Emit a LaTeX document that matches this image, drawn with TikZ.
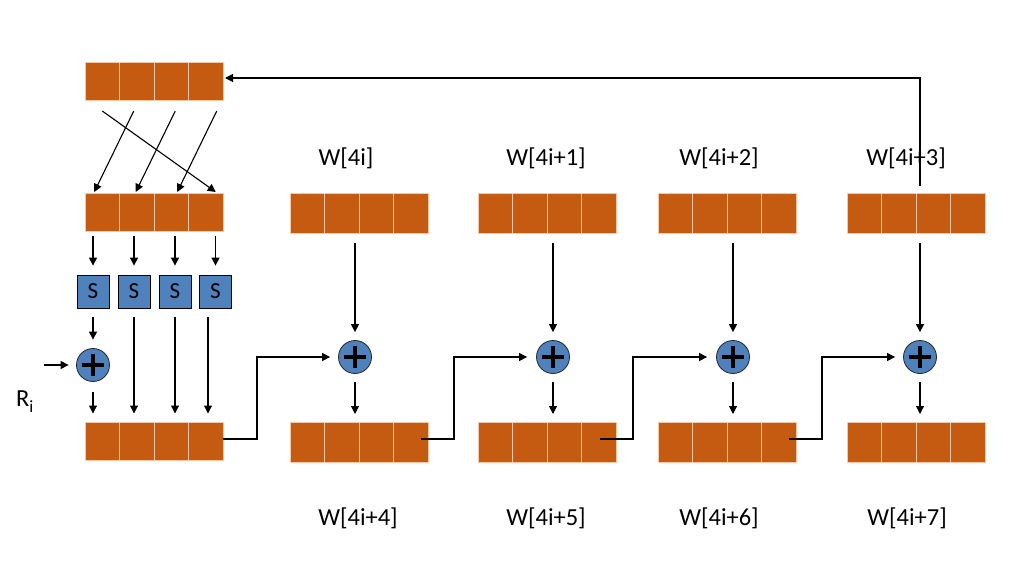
\documentclass[tikz,border=0pt]{standalone}
\usepackage{fontspec}
\setmainfont{Carlito}
\usetikzlibrary{arrows.meta,calc}
\definecolor{rustc}{HTML}{C55A11}
\definecolor{celledge}{RGB}{246,200,170}
\definecolor{sblue}{HTML}{4F81BD}
\tikzset{
  cell/.style={draw=celledge, line width=0.8pt, fill=rustc, minimum width=34.5pt, inner sep=0pt, outer sep=0pt},
  sbox/.style={draw=black, line width=0.8pt, fill=sblue, minimum width=32pt, minimum height=33pt, inner sep=0pt, font=\fontsize{23}{25}\selectfont},
  xorc/.style={circle, draw=black!85, line width=0.8pt, fill=sblue, minimum size=33pt, inner sep=0pt,
    path picture={\draw[line width=3.6pt, black] ([xshift=-11pt]path picture bounding box.center) -- ([xshift=11pt]path picture bounding box.center);
                  \draw[line width=3.6pt, black] ([yshift=-11pt]path picture bounding box.center) -- ([yshift=11pt]path picture bounding box.center);}},
  conn/.style={draw, line width=1.1pt, -{Triangle[length=8pt,width=8pt]}},
  lbl/.style={font=\fontsize{24.5}{28}\selectfont, inner sep=0pt}
}
\newcommand\regbox[4]{%
  \foreach \k in {1,...,4}{\node[cell, minimum height=#4] (#1\k) at ({#2+34.5*(\k-0.5)}, #3) {};}}
\begin{document}
\begin{tikzpicture}[x=1pt,y=-1pt]
\useasboundingbox (0,0) rectangle (1009,562);
% left boxes
\regbox{T}{85}{81}{38pt}
\regbox{P}{85}{212}{38pt}
\regbox{B}{85}{441.5}{38pt}
% W boxes
\regbox{Wa}{290}{213}{40pt}
\regbox{Wb}{478}{213}{40pt}
\regbox{Wc}{658}{213}{40pt}
\regbox{Wd}{847}{213}{40pt}
\regbox{Va}{290}{442}{40pt}
\regbox{Vb}{478}{442}{40pt}
\regbox{Vc}{658}{442}{40pt}
\regbox{Vd}{847}{442}{40pt}
% S boxes
\node[sbox] (S1) at (93,291.5) {S};
\node[sbox] (S2) at (134,291.5) {S};
\node[sbox] (S3) at (175,291.5) {S};
\node[sbox] (S4) at (215.5,291.5) {S};
% xor circles
\node[xorc] (X0) at (93,365) {};
\node[xorc] (X1) at (355,357) {};
\node[xorc] (X2) at (553,357) {};
\node[xorc] (X3) at (733,357) {};
\node[xorc] (X4) at (920,357) {};
% labels
\node[lbl] (ri) at (25,402) {R\textsubscript{\raisebox{-2pt}{i}}};
\node[lbl] (la) at (346,158) {W[4i]};
\node[lbl] (lb) at (546,158) {W[4i+1]};
\node[lbl] (lc) at (719,158) {W[4i+2]};
\node[lbl] (ld) at (906,158) {W[4i+3]};
\node[lbl] (le) at (358,518) {W[4i+4]};
\node[lbl] (lf) at (546,518) {W[4i+5]};
\node[lbl] (lg) at (719,518) {W[4i+6]};
\node[lbl] (lh) at (907,518) {W[4i+7]};
% rotation arrows
\draw[conn] ([yshift=-11pt]T1.south) -- ([xshift=10pt,yshift=1pt]P4.north);
\draw[conn] ([xshift=-3pt,yshift=-11pt]T2.south) -- ([xshift=-8pt,yshift=1pt]P1.north);
\draw[conn] ([xshift=4pt,yshift=-11pt]T3.south) -- ([xshift=-1pt,yshift=1pt]P2.north);
\draw[conn] ([xshift=11pt,yshift=-11pt]T4.south) -- ([xshift=6pt,yshift=1pt]P3.north);
% into S boxes
\foreach \k in {1,...,4}{\draw[conn, shorten <=5pt, shorten >=9pt] (S\k.north |- P\k.south) -- (S\k.north);}
% S outputs
\draw[conn, shorten <=9pt, shorten >=8.5pt] (S1.south) -- (X0.north);
\draw[conn, shorten <=10pt, shorten >=9pt] (X0.south) -- (X0.south |- B1.north);
\draw[conn, shorten <=9pt, shorten >=9pt] (S2.south) -- (S2.south |- B2.north);
\draw[conn, shorten <=9pt, shorten >=9pt] (S3.south) -- (S3.south |- B3.north);
\draw[conn, shorten <=9pt, shorten >=9pt] ([xshift=-7.5pt]S4.south) -- ([xshift=-7.5pt]S4.south |- B4.north);
% round constant
\coordinate (rin) at (44,365);
\draw[conn, shorten >=7.5pt] (rin) -- (X0.west);
% W verticals
\draw[conn, shorten <=10pt, shorten >=8pt] (X1.north |- Wa1.south) -- (X1.north);
\draw[conn, shorten <=10pt, shorten >=8pt] (X2.north |- Wb1.south) -- (X2.north);
\draw[conn, shorten <=10pt, shorten >=8pt] (X3.north |- Wc1.south) -- (X3.north);
\draw[conn, shorten <=10pt, shorten >=8pt] (X4.north |- Wd1.south) -- (X4.north);
\draw[conn, shorten <=8.5pt, shorten >=8pt] (X1.south) -- (X1.south |- Va1.north);
\draw[conn, shorten <=8.5pt, shorten >=8pt] (X2.south) -- (X2.south |- Vb1.north);
\draw[conn, shorten <=8.5pt, shorten >=8pt] (X3.south) -- (X3.south |- Vc1.north);
\draw[conn, shorten <=8.5pt, shorten >=8pt] (X4.south) -- (X4.south |- Vd1.north);
% chain
\draw[conn, shorten >=8pt] ([yshift=2.5pt]B4.east) -- ++(34,0) |- (X1.west);
\draw[conn, shorten >=9pt] ([xshift=-7pt,yshift=3pt]Va4.east) -- ++(33,0) |- (X2.west);
\draw[conn, shorten >=9pt] ([xshift=-16pt,yshift=3pt]Vb4.east) -- ++(33,0) |- (X3.west);
\draw[conn, shorten >=8pt] ([xshift=-7pt,yshift=3pt]Vc4.east) -- ++(33,0) |- (X4.west);
% feedback
\coordinate (fb) at ($(X4.north |- Wd1.north)+(0,-7)$);
\draw[conn, shorten >=2pt] (fb) |- ([yshift=3pt]T4.east);
\end{tikzpicture}
\end{document}
